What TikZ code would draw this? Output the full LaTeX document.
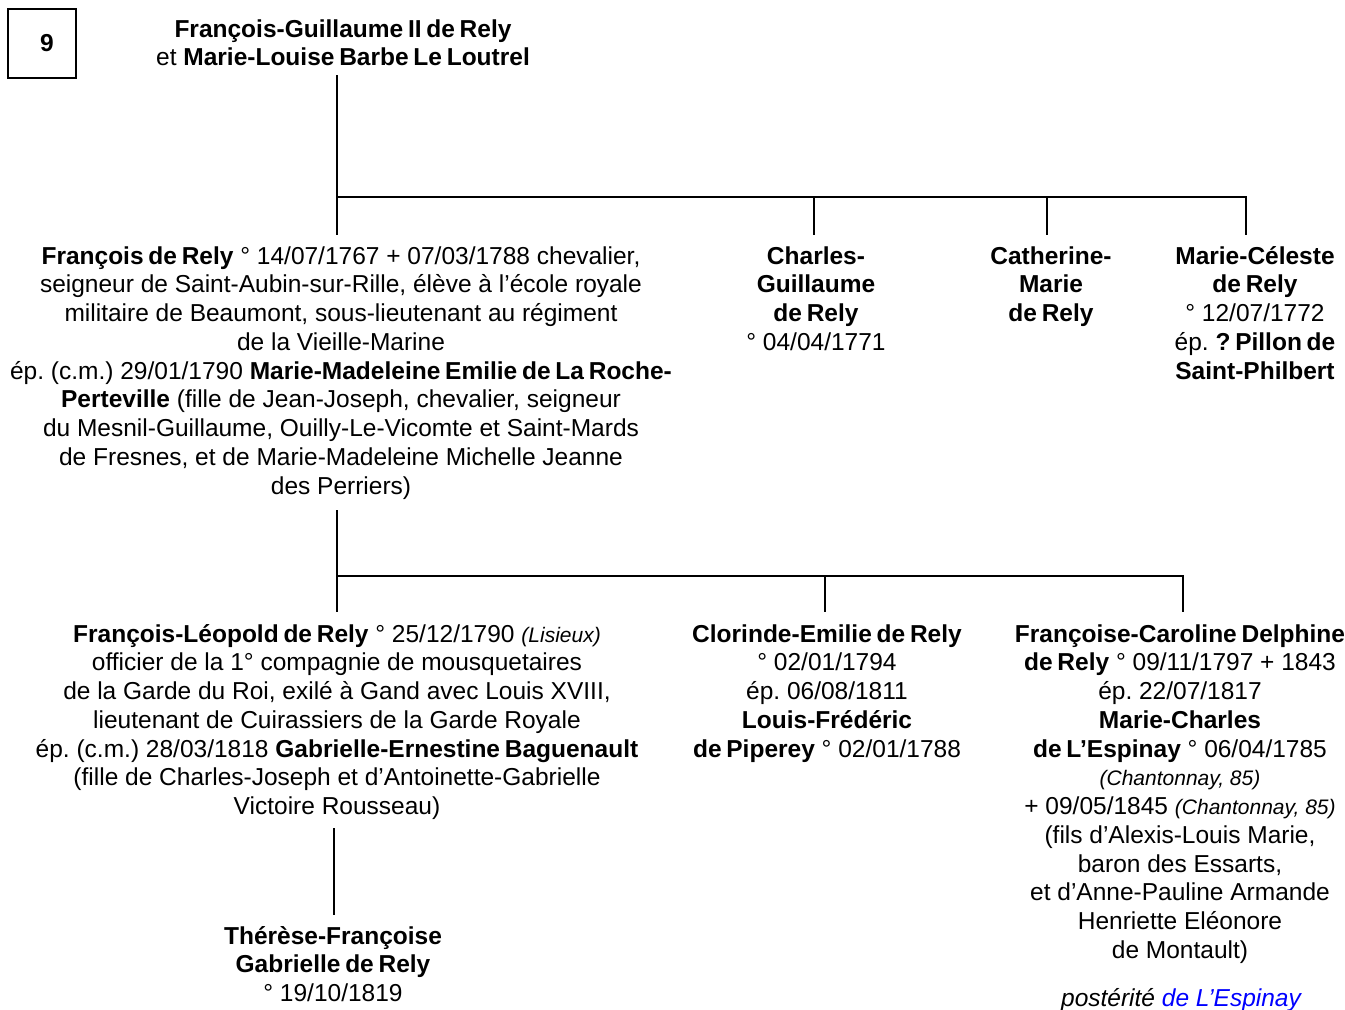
\documentclass[tikz,border=0pt]{standalone}
\usepackage{fontspec}
\setmainfont{Liberation Sans}[BoldFeatures={WordSpace=0.7}]
\frenchspacing

\definecolor{linkblue}{RGB}{0,0,255}
\newcommand{\smallit}[1]{{\fontsize{21}{28.75}\selectfont\itshape #1}}

\tikzset{
  every node/.style={inner sep=0pt, font=\fontsize{24.5}{28.75}\selectfont},
  % anchored at the baseline of the last line
  person/.style={align=center, anchor=base},
  link/.style={line width=2pt},
  numbox/.style={draw, line width=1.2pt, minimum width=68pt, minimum height=69pt,
    font=\fontsize{24.5}{28.75}\selectfont\bfseries}
}

\begin{document}
\begin{tikzpicture}[x=1pt, y=-1pt]
  \useasboundingbox (0,0) rectangle (1345,1010);

  % Plate number
  \node[numbox] (num) at (42,43.5) {\kern10pt 9};

  % Parents
  \node[person] (parents) at (343,65.75)
    {\textbf{François-Guillaume II de Rely}\\
     et \textbf{Marie-Louise Barbe Le Loutrel}};

  % Children
  \node[person] (francois) at (341,494)
    {\textbf{François de Rely} ° 14/07/1767 + 07/03/1788 chevalier,\\
     seigneur de Saint-Aubin-sur-Rille, élève à l’école royale\\
     militaire de Beaumont, sous-lieutenant au régiment\\
     de la Vieille-Marine\\
     ép. (c.m.) 29/01/1790 \textbf{Marie-Madeleine Emilie de La Roche-}\\
     \textbf{Perteville} (fille de Jean-Joseph, chevalier, seigneur\\
     du Mesnil-Guillaume, Ouilly-Le-Vicomte et Saint-Mards\\
     de Fresnes, et de Marie-Madeleine Michelle Jeanne\\
     des Perriers)};
  \node[person] (charles) at (816,350.25)
    {\textbf{Charles-}\\ \textbf{Guillaume}\\ \textbf{de Rely}\\ ° 04/04/1771};
  \node[person] (catherine) at (1051,321.5)
    {\textbf{Catherine-}\\ \textbf{Marie}\\ \textbf{de Rely}};
  \node[person] (celeste) at (1255,379)
    {\textbf{Marie-Céleste}\\ \textbf{de Rely}\\ ° 12/07/1772\\
     ép. \textbf{? Pillon de}\\ \textbf{Saint-Philbert}};

  % Grandchildren
  \node[person] (leopold) at (337,814.5)
    {\textbf{François-Léopold de Rely} ° 25/12/1790 \smallit{(Lisieux)}\\
     officier de la 1° compagnie de mousquetaires\\
     de la Garde du Roi, exilé à Gand avec Louis XVIII,\\
     lieutenant de Cuirassiers de la Garde Royale\\
     ép. (c.m.) 28/03/1818 \textbf{Gabrielle-Ernestine Baguenault}\\
     (fille de Charles-Joseph et d’Antoinette-Gabrielle\\
     Victoire Rousseau)};
  \node[person] (clorinde) at (827,757)
    {\textbf{Clorinde-Emilie de Rely}\\ ° 02/01/1794\\ ép. 06/08/1811\\
     \textbf{Louis-Frédéric}\\ \textbf{de Piperey} ° 02/01/1788};
  \node[person] (caroline) at (1180,958.25)
    {\textbf{Françoise-Caroline Delphine}\\
     \textbf{de Rely} ° 09/11/1797 + 1843\\
     ép. 22/07/1817\\
     \textbf{Marie-Charles}\\
     \textbf{de L’Espinay} ° 06/04/1785\\
     \smallit{(Chantonnay, 85)}\\
     + 09/05/1845 \smallit{(Chantonnay, 85)}\\
     (fils d’Alexis-Louis Marie,\\
     baron des Essarts,\\
     et d’Anne-Pauline Armande\\
     Henriette Eléonore\\
     de Montault)};
  \node[person] (posterite) at (1181,1006)
    {\itshape postérité \textcolor{linkblue}{de L’Espinay}};

  % Great-grandchild
  \node[person] (therese) at (333,1001.5)
    {\textbf{Thérèse-Françoise}\\ \textbf{Gabrielle de Rely}\\ ° 19/10/1819};

  % Lines, first generation
  \coordinate (top) at (337,75);
  \coordinate (bar1) at (337,197);
  \coordinate (d1) at (337,235);
  \coordinate (d2) at (814,235);
  \coordinate (d3) at (1047,235);
  \coordinate (d4) at (1246,235);
  \draw[link] (top) -- (d1);
  \draw[link] (bar1) -- (bar1 -| d4) -- (d4);
  \draw[link] (bar1 -| d2) -- (d2);
  \draw[link] (bar1 -| d3) -- (d3);

  % Lines, second generation
  \coordinate (mid) at (337,510);
  \coordinate (bar2) at (337,576);
  \coordinate (e1) at (337,612);
  \coordinate (e2) at (825,612);
  \coordinate (e3) at (1183,612);
  \draw[link] (mid) -- (e1);
  \draw[link] (bar2) -- (bar2 -| e3) -- (e3);
  \draw[link] (bar2 -| e2) -- (e2);

  % Line, third generation
  \coordinate (low) at (334,828);
  \coordinate (f1) at (334,915);
  \draw[link] (low) -- (f1);
\end{tikzpicture}
\end{document}
